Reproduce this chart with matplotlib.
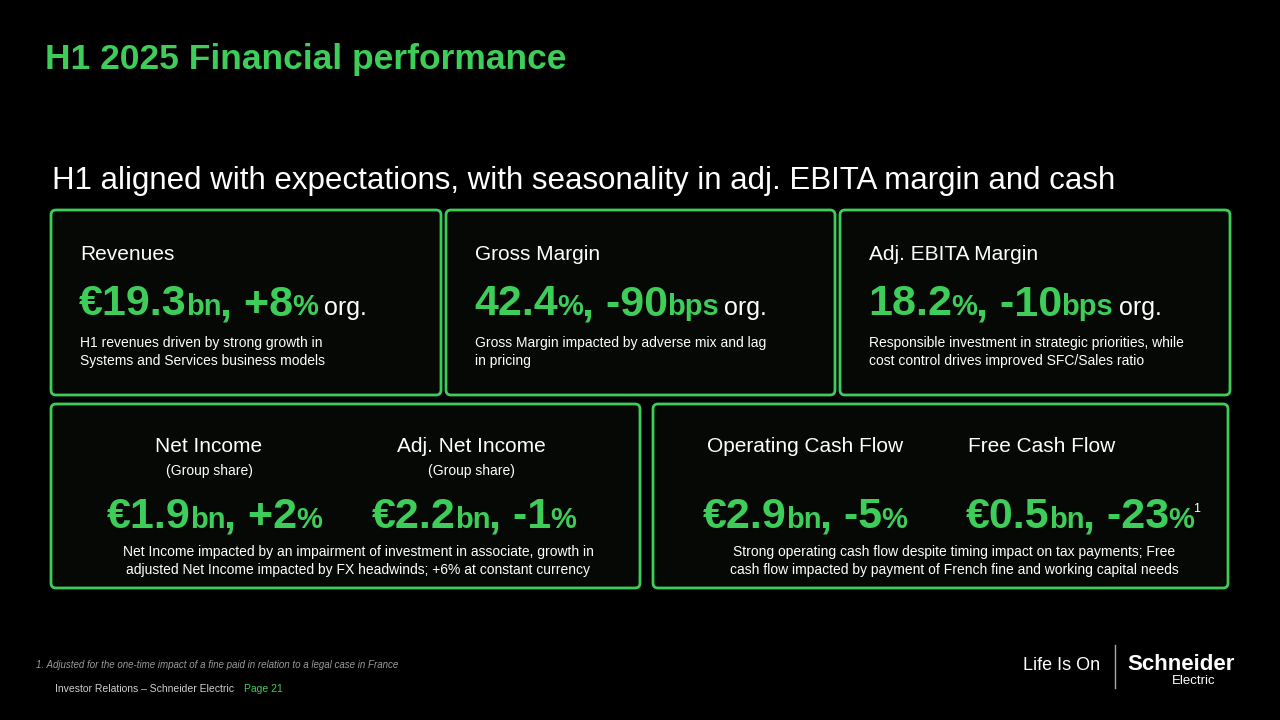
import matplotlib
matplotlib.use("Agg")
import matplotlib.pyplot as plt
from matplotlib.patches import FancyBboxPatch

GREEN = "#3dcd58"
title = "H1 2025 Financial performance"
subtitle = "H1 aligned with expectations, with seasonality in adj. EBITA margin and cash"

top_labels = ["Revenues", "Gross Margin", "Adj. EBITA Margin"]
top_values = [
    [("€19.3", "big"), ("bn", "mid"), (", +8", "big"), ("%", "mid"), (" org.", "org")],
    [("42.4", "big"), ("%", "mid"), (", -90", "big"), ("bps", "mid"), (" org.", "org")],
    [("18.2", "big"), ("%", "mid"), (", -10", "big"), ("bps", "mid"), (" org.", "org")],
]
top_notes = [
    "H1 revenues driven by strong growth in\nSystems and Services business models",
    "Gross Margin impacted by adverse mix and lag\nin pricing",
    "Responsible investment in strategic priorities, while\ncost control drives improved SFC/Sales ratio",
]
bottom_labels = ["Net Income", "Adj. Net Income", "Operating Cash Flow", "Free Cash Flow"]
bottom_sub = ["(Group share)", "(Group share)", "", ""]
bottom_values = [
    [("€1.9", "big"), ("bn", "mid"), (", +2", "big"), ("%", "mid")],
    [("€2.2", "big"), ("bn", "mid"), (", -1", "big"), ("%", "mid")],
    [("€2.9", "big"), ("bn", "mid"), (", -5", "big"), ("%", "mid")],
    [("€0.5", "big"), ("bn", "mid"), (", -23", "big"), ("%", "mid"), ("1", "sup")],
]
bottom_notes = [
    "Net Income impacted by an impairment of investment in associate, growth in\nadjusted Net Income impacted by FX headwinds; +6% at constant currency",
    "Strong operating cash flow despite timing impact on tax payments; Free\ncash flow impacted by payment of French fine and working capital needs",
]
footnote = "1. Adjusted for the one-time impact of a fine paid in relation to a legal case in France"

FAM = "Liberation Sans"
STY = {
    "big": dict(fontsize=31, fontweight="bold", color=GREEN),
    "mid": dict(fontsize=21, fontweight="bold", color=GREEN),
    "org": dict(fontsize=18, color="white"),
    "sup": dict(fontsize=9, color="white"),
}

fig = plt.figure(figsize=(12.8, 7.2), dpi=100, facecolor="black")
ax = fig.add_axes([0, 0, 1, 1])
ax.set_xlim(0, 1280)
ax.set_ylim(720, 0)
ax.axis("off")
fig.canvas.draw()
r = fig.canvas.get_renderer()


def runs(x, y, parts):
    # place text pieces one after another on a common baseline
    for s, k in parts:
        yy = y - 16 if k == "sup" else y
        t = ax.text(x, yy, s, va="baseline", ha="left", family=FAM, **STY[k])
        x += t.get_window_extent(r).width - 1


def box(x0, y0, x1, y1):
    ax.add_patch(FancyBboxPatch((x0, y0), x1 - x0, y1 - y0, boxstyle="round,pad=0,rounding_size=5",
                                fc="#050805", ec=GREEN, lw=2))


ax.text(45, 60, title, fontsize=25.5, fontweight="bold", color=GREEN, va="center", family=FAM)
ax.text(52, 181, subtitle, fontsize=22.5, color="white", va="center", family=FAM)

tops = [(51, 441), (446, 835), (840, 1230)]
for (x0, x1), lab, val, note in zip(tops, top_labels, top_values, top_notes):
    box(x0, 210, x1, 395)
    ax.text(x0 + 29, 255, lab, fontsize=15, color="white", va="center", family=FAM)
    runs(x0 + 28, 315, val)
    ax.text(x0 + 29, 352, note, fontsize=10, color="white", va="center", linespacing=1.45, family=FAM)

box(51, 404, 640, 588)
box(653, 404, 1228, 588)
centers = [209, 471, 805, 1042]
for cx, lab, sub in zip(centers, bottom_labels, bottom_sub):
    ax.text(cx, 446, lab, fontsize=15, color="white", ha="center", va="center", family=FAM)
    if sub:
        ax.text(cx, 471, sub, fontsize=10, color="white", ha="center", va="center", family=FAM)
for x, val in zip([107, 372, 703, 966], bottom_values):
    runs(x, 528, val)
ax.text(358, 561, bottom_notes[0], fontsize=10, color="white", ha="center", va="center", linespacing=1.45, family=FAM)
ax.text(954, 561, bottom_notes[1], fontsize=10, color="white", ha="center", va="center", linespacing=1.45, family=FAM)

ax.text(36, 665, footnote, fontsize=7, color="#9a9a9a", style="italic", va="center", family=FAM)
ax.text(55, 689, "Investor Relations – Schneider Electric", fontsize=7.5, color="#cfcfcf", va="center", family=FAM)
ax.text(244, 689, "Page 21", fontsize=7.5, color=GREEN, va="center", family=FAM)
ax.text(1023, 666, "Life Is On", fontsize=13, color="white", va="center", family=FAM)
ax.plot([1115, 1115], [645, 688], color="#aaaaaa", lw=1)
ax.text(1127, 664, "Schneider", fontsize=16, fontweight="bold", color="white", va="center", family=FAM)
ax.text(1172, 681, "Electric", fontsize=9.5, color="white", va="center", family=FAM)

fig.savefig("out.png", dpi=100, facecolor="black")
